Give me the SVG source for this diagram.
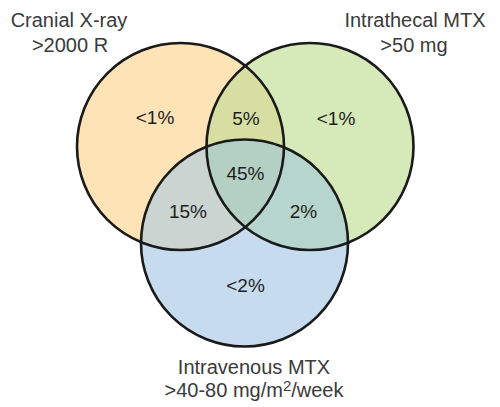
<svg xmlns="http://www.w3.org/2000/svg" width="500" height="407" viewBox="0 0 500 407">
<style>
.lbl{font-family:"Liberation Sans",Arial,sans-serif;font-size:20px;fill:#3a3a3a;text-anchor:middle}
.val{font-family:"Liberation Sans",Arial,sans-serif;font-size:19px;fill:#1e1e1e;text-anchor:middle}
.ring{fill:none;stroke:#1a1a1a;stroke-width:2.6}
</style>
<defs>
<clipPath id="cA"><circle cx="180.5" cy="146.5" r="103.5"/></clipPath>
<clipPath id="cB"><circle cx="310" cy="146.5" r="103.5"/></clipPath>
<clipPath id="cC"><circle cx="244.5" cy="243" r="103.5"/></clipPath>
</defs>
<rect width="500" height="407" fill="#ffffff"/>
<g id="fills">
<circle cx="180.5" cy="146.5" r="103.5" fill="#fde3b5"/>
<circle cx="310" cy="146.5" r="103.5" fill="#d6e9b9"/>
<circle cx="244.5" cy="243" r="103.5" fill="#c6dcee"/>
<g clip-path="url(#cA)"><circle cx="310" cy="146.5" r="103.5" fill="#d7dea2"/></g>
<g clip-path="url(#cA)"><circle cx="244.5" cy="243" r="103.5" fill="#cad4d0"/></g>
<g clip-path="url(#cB)"><circle cx="244.5" cy="243" r="103.5" fill="#b6d5cc"/></g>
<g clip-path="url(#cA)"><g clip-path="url(#cB)"><circle cx="244.5" cy="243" r="103.5" fill="#b4d0c4"/></g></g>
</g>
<g id="node-cranial">
<circle class="ring" cx="180.5" cy="146.5" r="103.5"/>
<text class="lbl" x="69" y="27">Cranial X-ray</text>
<text class="lbl" x="70" y="52">&gt;2000 R</text>
</g>
<g id="node-intrathecal">
<circle class="ring" cx="310" cy="146.5" r="103.5"/>
<text class="lbl" x="415" y="27">Intrathecal MTX</text>
<text class="lbl" x="414" y="52">&gt;50 mg</text>
</g>
<g id="node-intravenous">
<circle class="ring" cx="244.5" cy="243" r="103.5"/>
<text class="lbl" x="254" y="374">Intravenous MTX</text>
<text class="lbl" x="254" y="397">&gt;40-80 mg/m<tspan font-size="15" dy="-6">2</tspan><tspan dy="6">/week</tspan></text>
</g>
<g id="connectors"></g>
<g id="values">
<text class="val" x="155" y="124">&lt;1%</text>
<text class="val" x="246" y="125">5%</text>
<text class="val" x="336" y="125">&lt;1%</text>
<text class="val" x="245.5" y="180">45%</text>
<text class="val" x="188" y="218">15%</text>
<text class="val" x="303.5" y="218">2%</text>
<text class="val" x="245.5" y="292">&lt;2%</text>
</g>
</svg>
